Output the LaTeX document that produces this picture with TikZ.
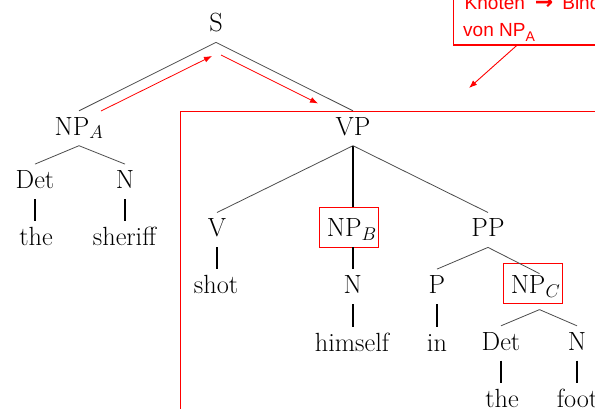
\RequirePackage{fix-cm}
\documentclass[tikz,border=0pt]{standalone}
\usepackage{fontspec}
\newfontfamily\calloutfont{Liberation Sans}
\newfontfamily\arrowfont{DejaVu Sans}
\usetikzlibrary{arrows.meta,calc}
\begin{document}
\begin{tikzpicture}[x=1pt,y=-1pt,
  tn/.style={anchor=base, font=\fontsize{26.3}{31}\selectfont, text height=18pt, text depth=4.5pt, inner xsep=1pt, inner ysep=6pt},
  boxed/.style={text height=21pt, text depth=1.6pt, inner ysep=8.5pt, inner xsep=1.5pt},
  redframe/.style={draw=red, line width=0.8pt},
  br/.style={draw=black!70, line width=0.8pt},
  vl/.style={draw=black, line width=1.9pt},
  rarrow/.style={draw=red, line width=0.8pt, -{Latex[length=8pt,width=6pt]}},
  ctext/.style={anchor=base west, inner sep=0pt, text=red, font=\calloutfont\fontsize{19}{22}\selectfont}]
\useasboundingbox (0,0) rectangle (595,408);
\clip (0,0) rectangle (595,408);

% big red frame
\draw[redframe] (180.5,450) |- (650,111);

% callout
\node[draw=red, line width=1.3pt, anchor=south west, minimum width=250pt, minimum height=80pt, inner sep=0pt] (callout) at (452.7,45.5) {};
\node[ctext] (ct1) at (464.5,9) {Knoten\hspace{10pt}{\arrowfont\bfseries\fontsize{22}{22}\selectfont →}\hspace{9pt}Bindungsbereich};
\node[ctext] (ct2) at (463,36.5) {von NP\raisebox{-5pt}{\fontsize{14}{14}\selectfont A}};
\coordinate (ctip) at (469,88);
\draw[red, line width=0.9pt, -{Latex[length=8pt,width=6pt]}] ([xshift=64pt]callout.south west) -- (ctip);

% tree nodes
\node[tn] (S) at (216,31.7) {S};
\node[tn] (NPA) at (79,135) {NP$_A$};
\node[tn] (VP) at (353,135) {VP};
\node[tn] (DetA) at (35,188.3) {Det};
\node[tn] (NA) at (125,188.3) {N};
\node[tn] (theA) at (36,245) {the};
\node[tn] (sheriff) at (124.5,245) {sheriff};
\node[tn] (V) at (217,236.7) {V};
\node[tn,boxed] (NPB) at (348.9,236.7) {\hspace*{6pt}NP$_B$};
\node[tn] (PP) at (488,236.7) {PP};
\node[tn] (shot) at (216,293.3) {shot};
\node[tn] (NB) at (352.7,293.3) {N};
\node[tn] (P) at (437,293.3) {P};
\node[tn,boxed] (NPC) at (532.5,293.3) {\hspace*{6pt}NP$_C$};
\node[tn] (himself) at (352,351) {himself};
\node[tn] (in) at (437,351) {in};
\node[tn] (DetC) at (501,350) {Det};
\node[tn] (NC) at (577,350) {N};
\node[tn] (theC) at (502,407) {the};
\node[tn] (foot) at (577.5,407) {foot};

% red frames round NP_B and NP_C
\draw[redframe] (NPB.south west) rectangle (NPB.north east);
\draw[redframe] (NPC.south west) rectangle (NPC.north east);

% branches
\draw[br] (S.south) -- (NPA.north);
\draw[br] (S.south) -- (VP.north);
\draw[br] (NPA.south) -- (DetA.north);
\draw[br] (NPA.south) -- (NA.north);
\draw[vl] (DetA.south) -- (DetA.south |- theA.north);
\draw[vl] (NA.south) -- (NA.south |- sheriff.north);
\draw[br] (VP.south) -- (V.north);
\draw[vl] (VP.south) -- (VP.south |- NPB.north);
\draw[br] (VP.south) -- (PP.north);
\draw[vl] (V.south) -- (V.south |- shot.north);
\draw[vl] (NB.north |- NPB.south) -- (NB.north);
\draw[vl] (NB.south) -- (NB.south |- himself.north);
\draw[br] (PP.south) -- (P.north);
\draw[br] (PP.south) -- ([xshift=7pt,yshift=-10pt]NPC.north);
\draw[vl] (P.south) -- (P.south |- in.north);
\draw[br] ([xshift=7pt,yshift=-6pt]NPC.south) -- (DetC.north);
\draw[br] ([xshift=7pt,yshift=-6pt]NPC.south) -- (NC.north);
\draw[vl] (DetC.south) -- (DetC.south |- theC.north);
\draw[vl] (NC.south) -- (NC.south |- foot.north);

% red path arrows
\coordinate (a1s) at (101,111);
\coordinate (a1e) at (212,56);
\coordinate (a2s) at (221,55);
\coordinate (a2e) at (318,103.5);
\draw[rarrow] (a1s) -- (a1e);
\draw[rarrow] (a2s) -- (a2e);
\end{tikzpicture}
\end{document}
